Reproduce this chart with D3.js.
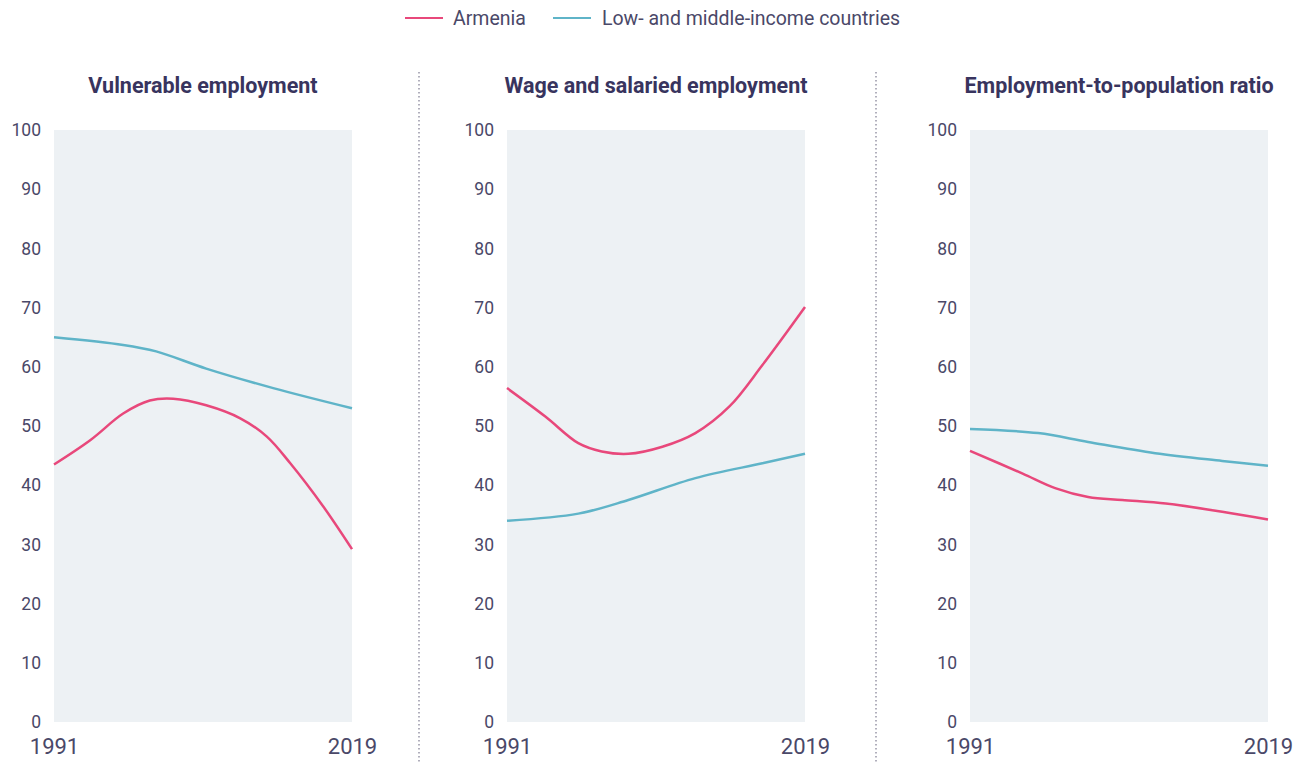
<!DOCTYPE html>
<html>
<head>
<meta charset="utf-8">
<script src="https://cdn.jsdelivr.net/npm/d3@7"></script>
<style>
  html, body { margin: 0; padding: 0; background: #fff; }
  svg { display: block; }
  text { font-family: Roboto, "Noto Sans", sans-serif; }
</style>
</head>
<body>
<svg id="chart" width="1296" height="762"></svg>
<script>
// ---- data ----
const seriesNames = ["Armenia", "Low- and middle-income countries"];
const panelTitles = ["Vulnerable employment", "Wage and salaried employment", "Employment-to-population ratio"];
const yTicks = [0, 10, 20, 30, 40, 50, 60, 70, 80, 90, 100];
const xTickLabels = [1991, 2019];

const vulnArmenia = [[1991,43.5],[1994.4,47.6],[1997.5,52.1],[2000,54.3],[2002.2,54.6],[2005.3,53.5],[2008.5,51.3],[2011,48.2],[2013.2,43.7],[2016.3,36.4],[2019,29.2]];
const vulnLMIC = [[1991,65.0],[1997.5,63.7],[2000.6,62.6],[2005.3,59.7],[2011.6,56.4],[2019,53.0]];

const wageArmenia = [[1991,56.4],[1994.6,51.6],[1997.7,47.1],[1999.9,45.7],[2002.4,45.3],[2005.6,46.5],[2008.7,48.8],[2011.9,53.3],[2015,60.3],[2019,70.1]];
const wageLMIC = [[1991,34.0],[1997.7,35.2],[2002.4,37.5],[2008.7,41.2],[2015,43.7],[2019,45.3]];

const eprArmenia = [[1991,45.8],[1995.9,42.0],[1999,39.5],[2002.1,38.0],[2005.3,37.5],[2009.4,36.9],[2014.7,35.5],[2019,34.2]];
const eprLMIC = [[1991,49.5],[1997.4,48.8],[2002.1,47.3],[2008.4,45.4],[2014.7,44.1],[2019,43.3]];

const panelData = [
  [vulnArmenia, vulnLMIC],
  [wageArmenia, wageLMIC],
  [eprArmenia, eprLMIC]
];

// ---- styles ----
const colors = ["#e8487b", "#5fb4c8"];
const textColor = "#4a4868";
const titleColor = "#38345e";
const plotBg = "#edf1f4";

const svg = d3.select("#chart");

// legend
const legend = svg.append("g");
const legendItems = [{x: 405, tx: 453, text: seriesNames[0], c: colors[0]}, {x: 553, tx: 602, text: seriesNames[1], c: colors[1]}];
legendItems.forEach(d => {
  legend.append("line").attr("x1", d.x).attr("x2", d.x + 38).attr("y1", 18).attr("y2", 18)
    .attr("stroke", d.c).attr("stroke-width", 2);
  legend.append("text").attr("x", d.tx).attr("y", 25).attr("fill", textColor)
    .attr("font-size", 19.5).text(d.text);
});

// panels
const panelLefts = [54, 507, 970];
const panelWidth = 298;
const yTop = 130, yBottom = 722;

const y = d3.scaleLinear().domain([0, 100]).range([yBottom, yTop]);

panelLefts.forEach((left, i) => {
  const x = d3.scaleLinear().domain([1991, 2019]).range([left, left + panelWidth]);
  const g = svg.append("g");

  g.append("rect").attr("x", left).attr("y", yTop).attr("width", panelWidth).attr("height", yBottom - yTop)
    .attr("fill", plotBg);

  g.append("text").attr("x", left + panelWidth / 2).attr("y", 93).attr("text-anchor", "middle")
    .attr("font-size", 21.5).attr("font-weight", 700).attr("fill", titleColor).text(panelTitles[i]);

  const yAxis = d3.axisLeft(y).tickValues(yTicks).tickSize(0).tickPadding(13);
  const ya = g.append("g").attr("transform", `translate(${left},0)`).call(yAxis);
  ya.select(".domain").remove();
  ya.selectAll("text").attr("font-size", 17.5).attr("fill", textColor).attr("font-family", "Roboto, sans-serif");

  const xAxis = d3.axisBottom(x).tickValues(xTickLabels).tickFormat(d3.format("d")).tickSize(0).tickPadding(0);
  const xa = g.append("g").attr("transform", `translate(0,${yBottom})`).call(xAxis);
  xa.select(".domain").remove();
  xa.selectAll("text").attr("font-size", 22).attr("fill", textColor).attr("font-family", "Roboto, sans-serif")
    .attr("dy", null).attr("y", 32);

  const line = d3.line().x(d => x(d[0])).y(d => y(d[1])).curve(d3.curveCatmullRom.alpha(0.5));
  panelData[i].forEach((s, j) => {
    g.append("path").datum(s).attr("d", line).attr("fill", "none")
      .attr("stroke", colors[j]).attr("stroke-width", 2.5).attr("stroke-linecap", "butt");
  });
});

// dotted dividers
[419, 876].forEach(xx => {
  svg.append("line").attr("x1", xx).attr("x2", xx).attr("y1", 72).attr("y2", 762)
    .attr("stroke", "#7d7b90").attr("stroke-width", 1.2).attr("stroke-dasharray", "1.5,2.5");
});
</script>
</body>
</html>
